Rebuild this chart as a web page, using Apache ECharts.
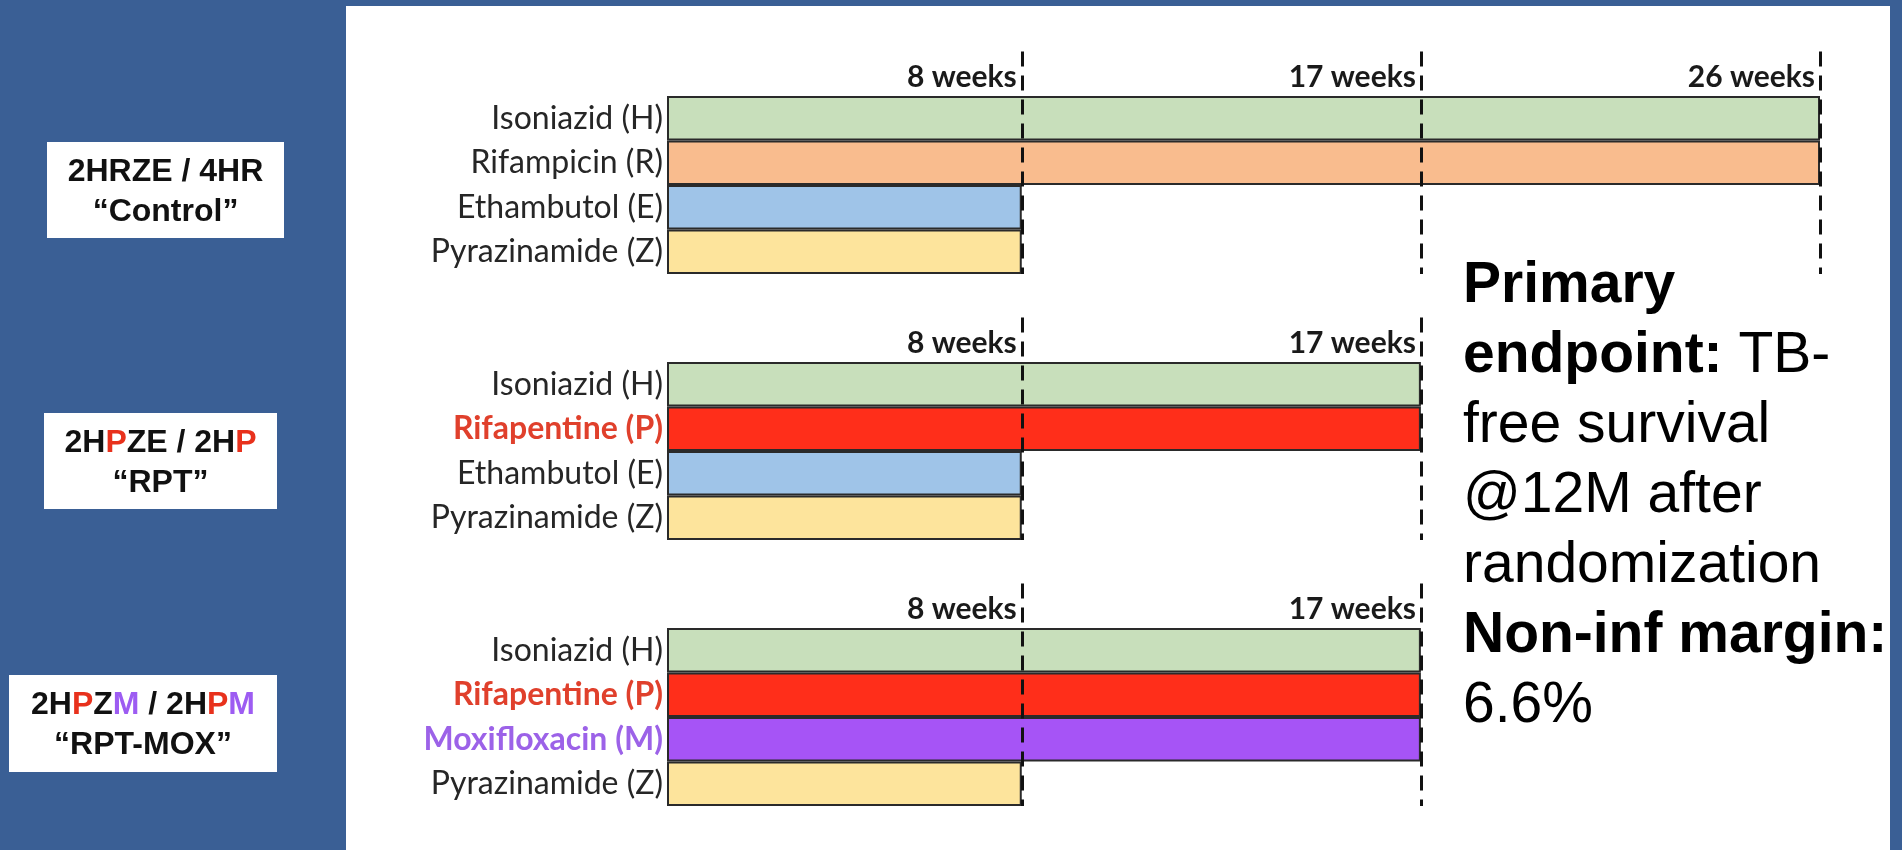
<!DOCTYPE html>
<html>
<head>
<meta charset="utf-8">
<script src="https://cdn.jsdelivr.net/npm/echarts@6/dist/echarts.min.js"></script>
<style>
  html, body { margin: 0; padding: 0; background: #3a5f95; }
  #chart { width: 1902px; height: 850px; }
</style>
</head>
<body>
<div id="chart"></div>
<script>
// Treatment duration (weeks) of each drug, one panel per regimen
const controlDrugs = ['Isoniazid (H)', 'Rifampicin (R)', 'Ethambutol (E)', 'Pyrazinamide (Z)'];
const controlWeeks = [26, 26, 8, 8];
const controlMarks = [8, 17, 26];

const rptDrugs = ['Isoniazid (H)', 'Rifapentine (P)', 'Ethambutol (E)', 'Pyrazinamide (Z)'];
const rptWeeks = [17, 17, 8, 8];
const rptMarks = [8, 17];

const moxDrugs = ['Isoniazid (H)', 'Rifapentine (P)', 'Moxifloxacin (M)', 'Pyrazinamide (Z)'];
const moxWeeks = [17, 17, 17, 8];
const moxMarks = [8, 17];

const regimenCodes = ['2HRZE / 4HR', '2H{p|P}ZE / 2H{p|P}', '2H{p|P}Z{m|M} / 2H{p|P}{m|M}'];
const regimenNames = ['“Control”', '“RPT”', '“RPT-MOX”'];

const endpointLines = [
  '{b|Primary}',
  '{b|endpoint:} TB-',
  'free survival',
  '@12M after',
  'randomization',
  '{b|Non-inf margin:}',
  '6.6%'
];

// ---- styling ----
const RED = '#ff2e1a';
const PURPLE = '#a654f6';
const drugFill = {
  'Isoniazid (H)': '#c8dfbb',
  'Rifampicin (R)': '#f9bc8e',
  'Ethambutol (E)': '#9fc4e8',
  'Pyrazinamide (Z)': '#fde49c',
  'Rifapentine (P)': RED,
  'Moxifloxacin (M)': PURPLE
};
const drugLabelStyle = {
  'Rifapentine (P)': { color: '#e0402c', fontWeight: 'bold' },
  'Moxifloxacin (M)': { color: '#9c62e8', fontWeight: 'bold' }
};

const panels = [
  { drugs: controlDrugs, weeks: controlWeeks, marks: controlMarks, top: 51.5 },
  { drugs: rptDrugs, weeks: rptWeeks, marks: rptMarks, top: 317.5 },
  { drugs: moxDrugs, weeks: moxWeeks, marks: moxMarks, top: 583.5 }
];

const AXIS_LEFT = 667;
const AXIS_WIDTH = 1153;
const ROW = 44.5;
const LABEL_FONT = 'Lato, "Noto Sans", sans-serif';

const grid = [], xAxis = [], yAxis = [], series = [];

panels.forEach((p, i) => {
  grid.push({ left: AXIS_LEFT, width: AXIS_WIDTH, top: p.top, height: ROW * (p.drugs.length + 1) });

  xAxis.push({
    gridIndex: i,
    type: 'value',
    min: 0,
    max: 26,
    position: 'top',
    axisLine: { show: false },
    axisTick: { show: false },
    splitLine: { show: false },
    axisLabel: {
      inside: true,
      customValues: p.marks,
      formatter: v => v + ' weeks',
      align: 'right',
      verticalAlign: 'middle',
      margin: 26,
      padding: [0, 5, 0, 0],
      fontFamily: LABEL_FONT,
      fontWeight: 'bold',
      fontSize: 30,
      color: '#1a1a1a'
    }
  });

  // leading blank row leaves room for the week labels above the bars
  yAxis.push({
    gridIndex: i,
    type: 'category',
    inverse: true,
    data: [''].concat(p.drugs.map(d => ({ value: d, textStyle: drugLabelStyle[d] || {} }))),
    axisLine: { show: false },
    axisTick: { show: false },
    splitLine: { show: false },
    axisLabel: {
      margin: 4,
      fontFamily: LABEL_FONT,
      fontSize: 32,
      color: '#262626'
    }
  });

  series.push({
    type: 'bar',
    xAxisIndex: i,
    yAxisIndex: i,
    barCategoryGap: '0%',
    data: [null].concat(p.weeks.map((w, k) => ({
      value: w,
      itemStyle: { color: drugFill[p.drugs[k]] }
    }))),
    itemStyle: { borderColor: '#2a2a2a', borderWidth: 2 },
    emphasis: { disabled: true },
    markLine: {
      silent: true,
      symbol: 'none',
      label: { show: false },
      lineStyle: { color: '#111', width: 3, type: [15, 9] },
      emphasis: { disabled: true },
      data: p.marks.map(w => ({ xAxis: w }))
    },
    z: 2
  });
});

// regimen boxes on the left
const boxes = [
  { x: 47, y: 142, w: 237, h: 96 },
  { x: 44, y: 413, w: 233, h: 96 },
  { x: 9, y: 675, w: 268, h: 97 }
];
const boxFont = { fontFamily: '"Liberation Sans", Arial, sans-serif', fontWeight: 'bold', fontSize: 32, lineHeight: 40 };
const graphic = [
  { type: 'rect', z: -10, shape: { x: 346, y: 6, width: 1544, height: 860 }, style: { fill: '#ffffff' } }
];
boxes.forEach((b, i) => {
  graphic.push({ type: 'rect', shape: { x: b.x, y: b.y, width: b.w, height: b.h }, style: { fill: '#ffffff' } });
  graphic.push({
    type: 'text',
    x: b.x + b.w / 2,
    y: b.y + b.h / 2 + 2,
    style: Object.assign({
      text: regimenCodes[i] + '\n' + regimenNames[i],
      fill: '#111',
      align: 'center',
      verticalAlign: 'middle',
      rich: {
        p: Object.assign({ fill: '#e8311c' }, boxFont),
        m: Object.assign({ fill: '#9d5cf2' }, boxFont)
      }
    }, boxFont)
  });
});

// endpoint note on the right
const noteFont = { fontFamily: '"Liberation Sans", Arial, sans-serif', fontSize: 57, lineHeight: 70 };
graphic.push({
  type: 'text',
  x: 1463,
  y: 251,
  style: Object.assign({
    text: endpointLines.join('\n'),
    fill: '#000',
    align: 'left',
    verticalAlign: 'top',
    rich: {
      b: Object.assign({ fontWeight: 'bold', fill: '#000' }, noteFont)
    }
  }, noteFont)
});

const chart = echarts.init(document.getElementById('chart'), null, { renderer: 'canvas' });
chart.setOption({
  backgroundColor: '#3a5f95',
  animation: false,
  grid, xAxis, yAxis, series,
  graphic
});
</script>
</body>
</html>
